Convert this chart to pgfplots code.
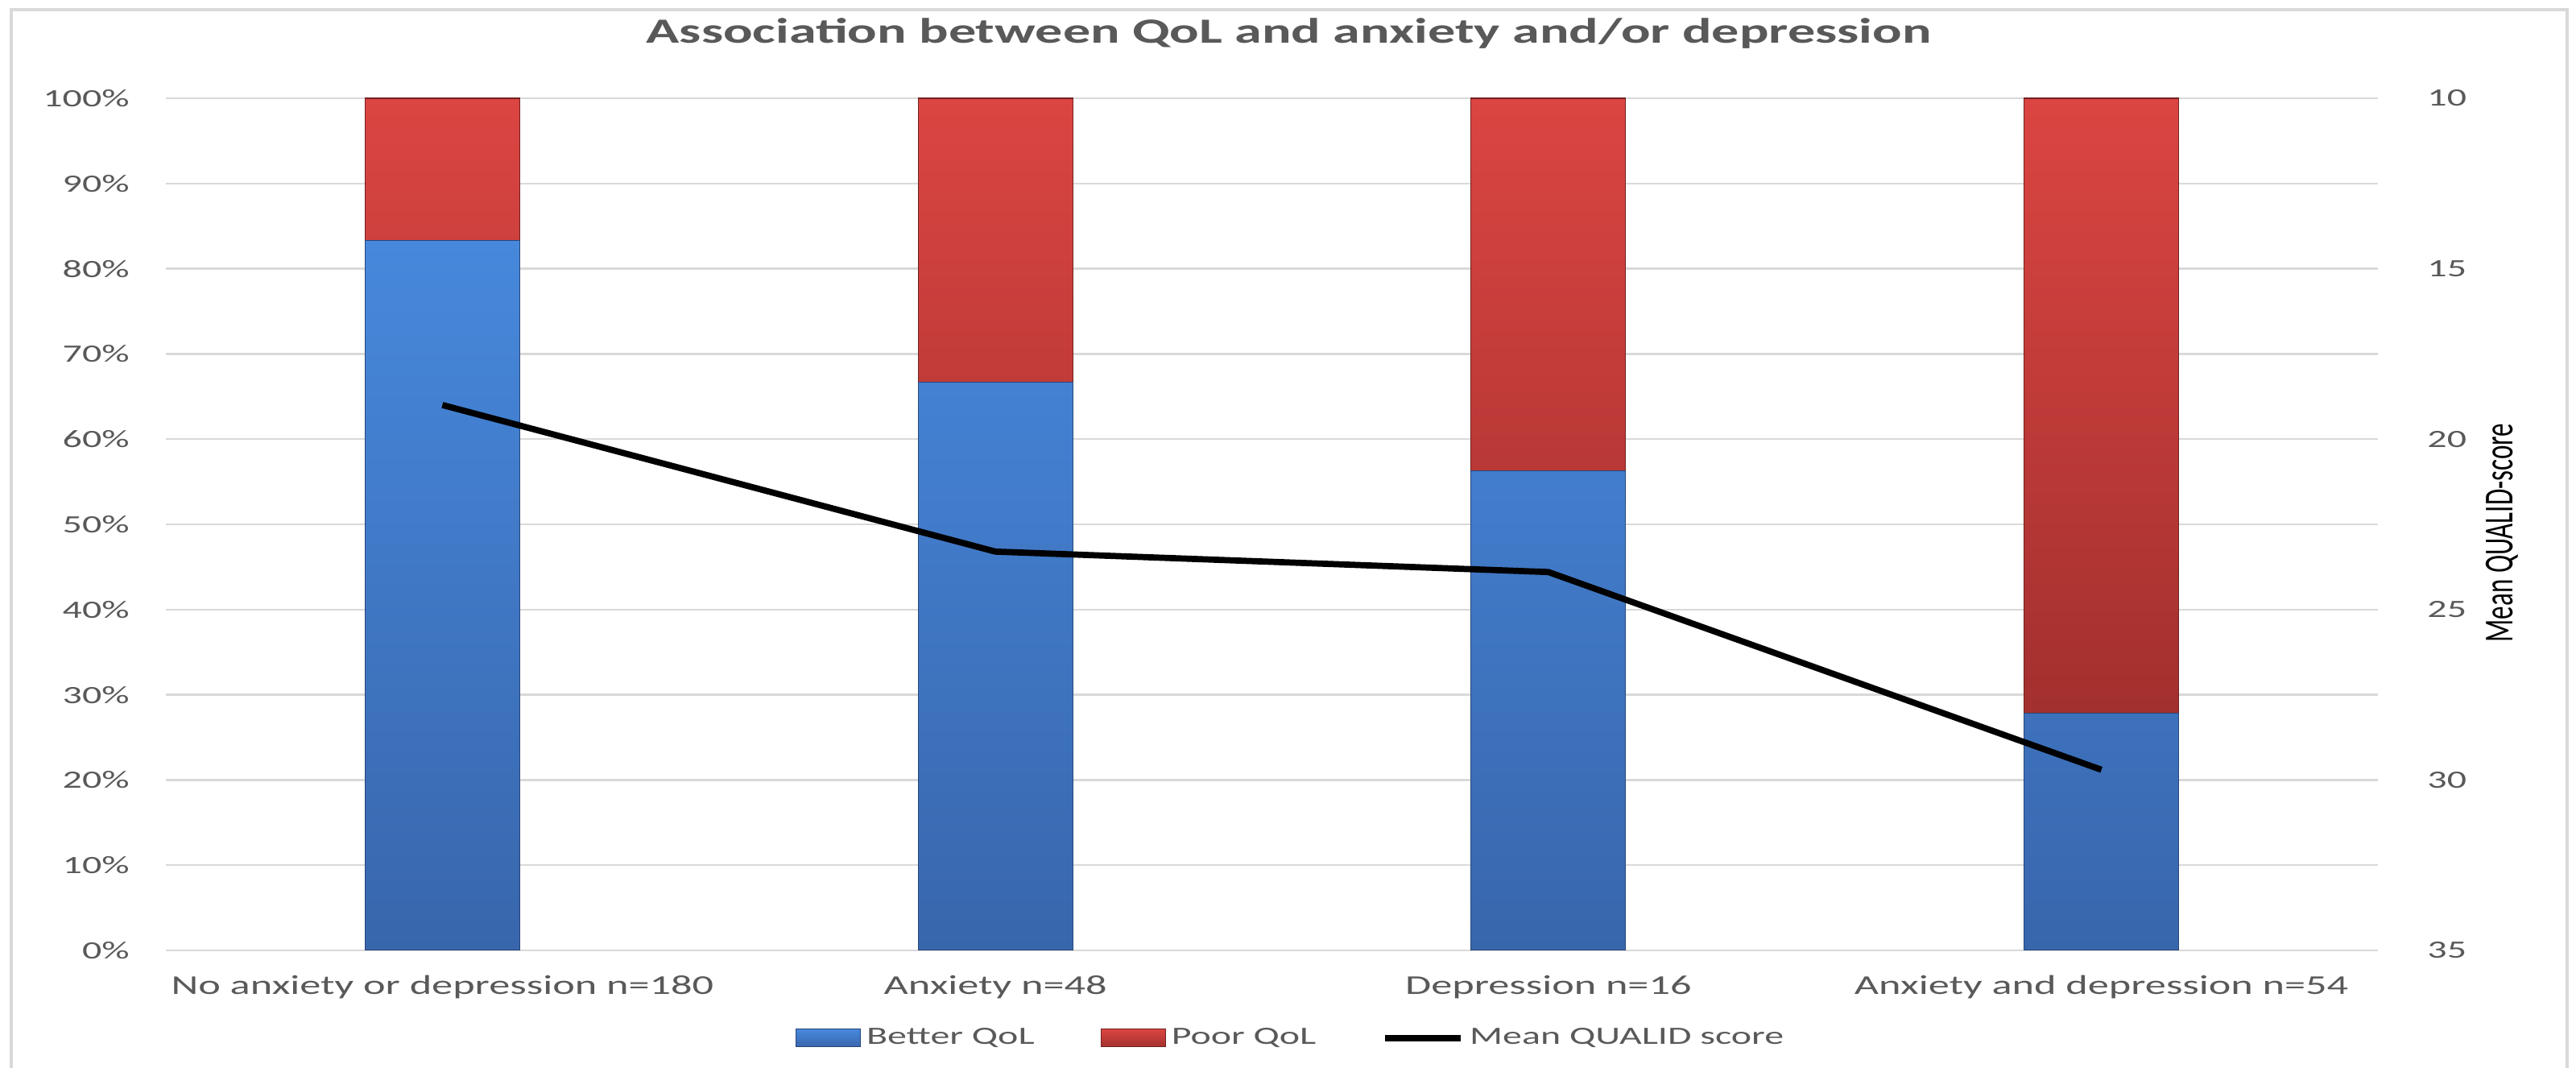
\documentclass[border=0pt]{standalone}
\usepackage{fontspec}
\setmainfont{Carlito}[FakeStretch=1.55]
\newfontfamily\plainfont{Carlito}
\usepackage{graphicx}
\usepackage{pgfplots}
\pgfplotsset{compat=1.18}

\definecolor{txtgray}{HTML}{595959}
\definecolor{gridgray}{HTML}{D9D9D9}
\definecolor{blueTop}{HTML}{4788DC}
\definecolor{blueBot}{HTML}{3866AC}
\definecolor{redTop}{HTML}{DB4542}
\definecolor{redBot}{HTML}{A2302E}

\pgfplotsset{
  base/.style={
    scale only axis, width=27.47cm, height=10.58cm,
    xmin=-0.5, xmax=3.5,
    axis line style={draw=none},
    major tick length=0pt,
    /pgf/number format/assume math mode=true,
    tick label style={font=\fontsize{8.8}{10}\selectfont, text=txtgray},
  },
  barlegend/.style={legend image code/.code={\fill[#1] (0mm,-1.1mm) rectangle (8mm,1.1mm);}},
  linelegend/.style={legend image code/.code={\draw[#1] (0mm,0mm) -- (9.4mm,0mm);}},
}

\begin{document}
\begin{tikzpicture}
\begin{axis}[base,
  ybar stacked, bar width=19.2mm,
  ymin=0, ymax=100, ytick={0,10,...,100},
  yticklabel={\pgfmathprintnumber{\tick}\%},
  yticklabel style={anchor=east, xshift=-3.3mm},
  ymajorgrids, grid style={gridgray, line width=0.7pt},
  xtick={0,1,2,3},
  xticklabels={No anxiety or depression n=180, Anxiety n=48, Depression n=16, Anxiety and depression n=54},
  xticklabel style={anchor=base, yshift=-5.5mm, font=\fontsize{9.6}{11}\selectfont},
  title={Association between QoL and anxiety and/or depression},
  title style={at={(axis description cs:0.5,1)}, anchor=base, yshift=4.7mm, xshift=2.1mm,
    font=\bfseries\fontsize{12.5}{14}\selectfont, text=txtgray},
  legend style={at={(axis description cs:0.5093,-0.103)}, anchor=center, draw=none, fill=none,
    font=\fontsize{8.8}{10}\selectfont, text=txtgray, legend columns=3,
    /tikz/every even column/.append style={column sep=7.5mm}},
]
% better QoL share (%)
\addplot[barlegend, draw=blueBot!70!black, line width=0.3pt, top color=blueTop, bottom color=blueBot] coordinates {
  (0,83.3) (1,66.7) (2,56.3) (3,27.8)};
% poor QoL share (%)
\addplot[barlegend, draw=redBot!70!black, line width=0.3pt, top color=redTop, bottom color=redBot] coordinates {
  (0,16.7) (1,33.3) (2,43.7) (3,72.2)};
\addlegendentry{Better QoL}
\addlegendentry{Poor QoL}
\addlegendimage{linelegend, black, line width=2.2pt}
\addlegendentry{Mean QUALID score}
\end{axis}

\begin{axis}[base,
  axis y line*=right, axis x line=none,
  y dir=reverse, ymin=10, ymax=35, ytick={10,15,...,35},
  yticklabel style={anchor=west, xshift=4.9mm},
  ylabel={\plainfont\fontsize{9.4}{11}\selectfont\scalebox{1}[1.55]{Mean QUALID-score}},
  every axis y label/.style={at={(axis description cs:1.0561,0.49)}, rotate=90, anchor=center},
]
\addplot[black, line width=2.2pt, line join=round] coordinates {(0,19.0) (1,23.3) (2,23.9) (3,29.7)};
\end{axis}

\draw[gridgray, line width=1.2pt] (-1.92,-1.7) -- (-1.92,11.68) -- (29.82,11.68) -- (29.82,-1.7);
\pgfresetboundingbox
\useasboundingbox (-2.06,-1.46) rectangle (29.93,11.80);
\end{tikzpicture}
\end{document}
